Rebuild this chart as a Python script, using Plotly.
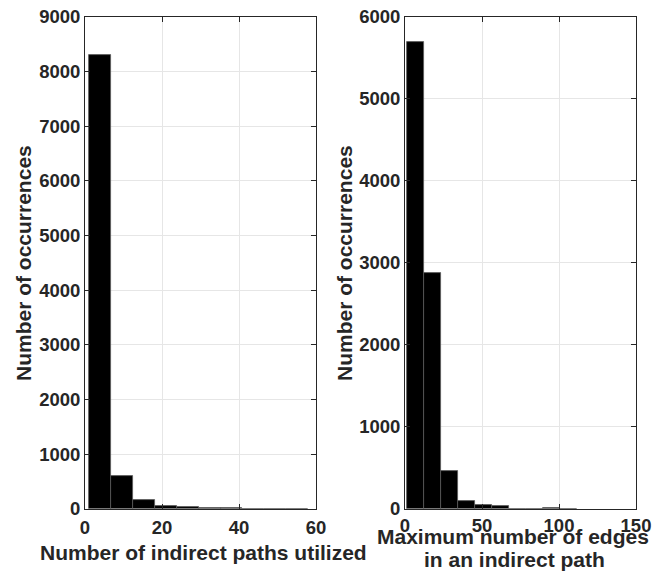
import plotly.graph_objects as go

# Left histogram: number of indirect paths utilized
left_start = 1.0
left_width = 5.7
left_counts = [8300, 603, 165, 55, 25, 8, 4, 2, 1, 1]

# Right histogram: maximum number of edges in an indirect path
right_start = 1.5
right_width = 11.0
right_counts = [5690, 2872, 460, 90, 40, 30, 0, 0, 6, 2]

left_xticks = [0, 20, 40, 60]
left_yticks = [0, 1000, 2000, 3000, 4000, 5000, 6000, 7000, 8000, 9000]
right_xticks = [0, 50, 100, 150]
right_yticks = [0, 1000, 2000, 3000, 4000, 5000, 6000]

left_xtitle = "Number of indirect paths utilized"
right_xtitle_lines = ["Maximum number of edges", "in an indirect path"]
ytitle = "Number of occurrences"

W, H = 662, 571
TXT = "#262626"
FONT = "Liberation Sans, Arial, Helvetica, sans-serif"

def centers(start, width, n):
    return [start + width * (i + 0.5) for i in range(n)]

fig = go.Figure()
fig.add_trace(go.Bar(
    x=centers(left_start, left_width, len(left_counts)), y=left_counts,
    width=[left_width] * len(left_counts),
    marker=dict(color="black", line=dict(color="#5a5a5a", width=0.8)),
    xaxis="x", yaxis="y", showlegend=False))
fig.add_trace(go.Bar(
    x=centers(right_start, right_width, len(right_counts)), y=right_counts,
    width=[right_width] * len(right_counts),
    marker=dict(color="black", line=dict(color="#5a5a5a", width=0.8)),
    xaxis="x2", yaxis="y2", showlegend=False))

x0L, x1L = 85 / W, 316 / W
x0R, x1R = 405 / W, 636 / W
yB, yT = 1 - 508.7 / H, 1 - 17 / H

tickfont = dict(family=FONT, size=18.5, color=TXT, weight="bold")
axis_common = dict(
    showgrid=True, gridcolor="#e6e6e6", gridwidth=1,
    showline=True, linecolor=TXT, linewidth=1, mirror="ticks",
    ticks="inside", ticklen=5, tickcolor=TXT,
    tickfont=tickfont, automargin=False,
    zeroline=False, fixedrange=True,
)

fig.update_layout(
    width=W, height=H,
    margin=dict(l=0, r=0, t=0, b=0),
    paper_bgcolor="white", plot_bgcolor="white",
    bargap=0,
    font=dict(family=FONT, color=TXT),
    xaxis=dict(domain=[x0L, x1L], range=[0, 60], tickvals=left_xticks, anchor="y", ticklabelstandoff=2, **axis_common),
    yaxis=dict(domain=[yB, yT], range=[0, 9000], tickvals=left_yticks, anchor="x", **axis_common),
    xaxis2=dict(domain=[x0R, x1R], range=[0, 150], tickvals=right_xticks, anchor="y2", ticklabelstandoff=0, **axis_common),
    yaxis2=dict(domain=[yB, yT], range=[0, 6000], tickvals=right_yticks, anchor="x2", **axis_common),
)

tfont = dict(family=FONT, size=21, color=TXT, weight="bold")
fig.add_annotation(text=left_xtitle, xref="paper", yref="paper",
                   x=203 / W, y=1 - 552 / H, showarrow=False, font=tfont,
                   xanchor="center", yanchor="middle")
fig.add_annotation(text=right_xtitle_lines[0], xref="paper", yref="paper",
                   x=513 / W, y=1 - 536 / H, showarrow=False, font=tfont,
                   xanchor="center", yanchor="middle")
fig.add_annotation(text=right_xtitle_lines[1], xref="paper", yref="paper",
                   x=514 / W, y=1 - 559 / H, showarrow=False, font=tfont,
                   xanchor="center", yanchor="middle")
fig.add_annotation(text=ytitle, xref="paper", yref="paper",
                   x=23 / W, y=1 - 263 / H, showarrow=False, font=tfont, textangle=-90,
                   xanchor="center", yanchor="middle")
fig.add_annotation(text=ytitle, xref="paper", yref="paper",
                   x=344 / W, y=1 - 263 / H, showarrow=False, font=tfont, textangle=-90,
                   xanchor="center", yanchor="middle")

fig.write_html(
    "out.html",
    config={"displayModeBar": False},
    post_script="document.body.style.margin='0';document.body.style.overflow='hidden';",
)
